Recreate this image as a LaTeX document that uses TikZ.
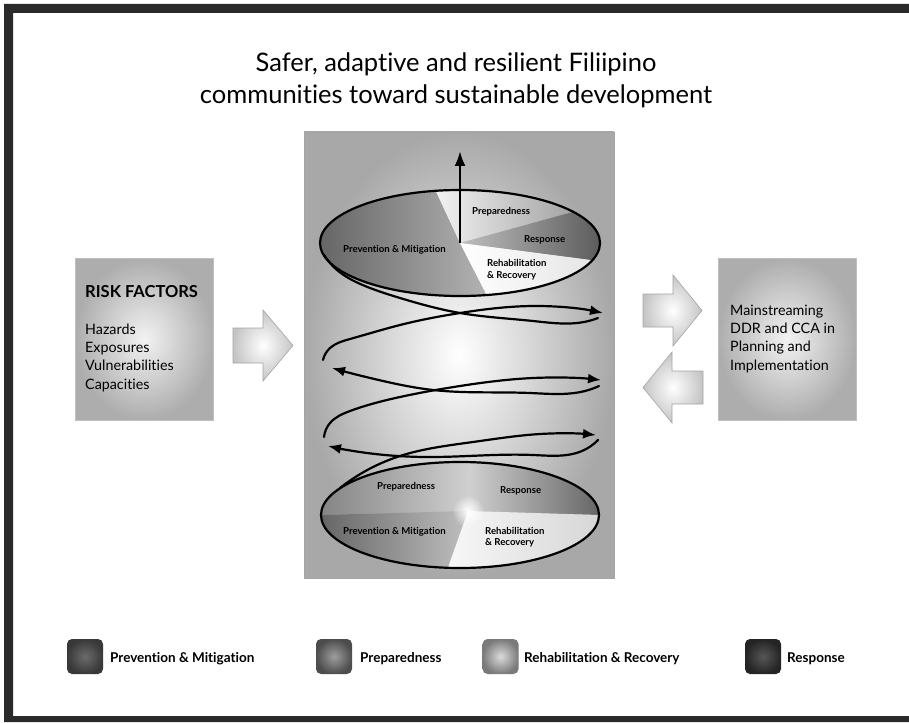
\documentclass[tikz,border=0pt]{standalone}
\usepackage{fontspec}
\setmainfont{Lato}[Ligatures=NoCommon]
\usetikzlibrary{hobby, calc, arrows.meta, fadings}

\definecolor{framegray}{HTML}{2A2A2A}
\definecolor{edgegray}{HTML}{A4A4A4}
\definecolor{panelgray}{HTML}{A8A8A8}
\definecolor{boxgray}{HTML}{ADADAD}
\definecolor{arrowgray}{HTML}{C4C4C4}

\tikzfading[name=glow, inner color=transparent!0, outer color=transparent!100]

\tikzset{
  titletext/.style={anchor=base, font=\fontsize{25.5}{30}\selectfont},
  boxhead/.style={anchor=base west, inner sep=0pt, font=\bfseries\fontsize{16.5}{19}\selectfont},
  boxtext/.style={anchor=base west, inner sep=0pt, font=\fontsize{14.3}{17}\selectfont},
  pielabel/.style={anchor=base west, inner sep=0pt, font=\bfseries\fontsize{9.6}{11}\selectfont},
  legendtext/.style={anchor=base west, inner sep=0pt, font=\bfseries\fontsize{13.5}{16}\selectfont},
  factorbox/.style={draw=edgegray!70, line width=0.5pt, shading=radial, inner color=white!95!black,
    outer color=boxgray, minimum width=138pt, minimum height=162pt, inner sep=0pt},
  panel/.style={draw=edgegray, line width=0.6pt, shading=radial, inner color=white,
    outer color=panelgray, minimum width=310pt, minimum height=446pt, inner sep=0pt},
  blockarrow/.style={draw=edgegray, line width=0.6pt, shading=radial, inner color=white, outer color=arrowgray},
  legendkey/.style={rounded corners=5pt, minimum width=36pt, minimum height=35pt, inner sep=0pt, shading=radial},
  helix/.style={line width=2.2pt, line cap=round},
  helixtip/.style={helix, -{Latex[length=13pt,width=10pt]}}
}

\begin{document}
\begin{tikzpicture}[x=1pt, y=-1pt, use Hobby shortcut]
  \useasboundingbox (0,0) rectangle (909,722);
  \fill[framegray] (4,4) rectangle (909,13) (4,4) rectangle (13,722) (4,716) rectangle (909,722);

  \node[titletext] (title1) at (456,72) {Safer, adaptive and resilient Filiipino};
  \node[titletext] (title2) at (456,104) {communities toward sustainable development};

  \node[factorbox] (risk) at (144.5,339) {};
  \node[boxhead] (riskhead) at (85,297) {RISK FACTORS};
  \foreach \f [count=\i from 0] in {Hazards, Exposures, Vulnerabilities, Capacities}
    \node[boxtext] (factor\i) at (85,{334+18.4*\i}) {\f};

  \node[factorbox] (mainstream) at (787,339) {};
  \foreach \l [count=\i from 0] in {Mainstreaming, DDR and CCA in, Planning and, Implementation}
    \node[boxtext] (plan\i) at (730,{315+18.4*\i}) {\l};

  \path[blockarrow] (233,328) -- (263,328) -- (263,310) -- (293,345.5) -- (263,381) -- (263,363) -- (233,363) -- cycle;
  \path[blockarrow] (643,294) -- (673,294) -- (673,275) -- (702,310.5) -- (673,346) -- (673,327) -- (643,327) -- cycle;
  \path[blockarrow] (703,371) -- (672,371) -- (672,352) -- (643,387.5) -- (672,423) -- (672,404) -- (703,404) -- cycle;

  \node[panel] (cycle) at (459,355) {};

  \coordinate (top) at (460,243);
  \coordinate (toptip) at (460,151);
  \path[shading=axis, left color=black!62, right color=black!30] (top) -- ++(100:140pt and 53pt)
    arc[start angle=100, end angle=281, x radius=140pt, y radius=53pt] -- cycle;
  \path[shading=axis, left color=black!5, right color=black!36] (top) -- ++(36:140pt and 53pt)
    arc[start angle=36, end angle=100, x radius=140pt, y radius=53pt] -- cycle;
  \path[shading=axis, left color=black!25, right color=black!66] (top) -- ++(-19:140pt and 53pt)
    arc[start angle=-19, end angle=36, x radius=140pt, y radius=53pt] -- cycle;
  \path[shading=axis, left color=white, right color=black!10] (top) -- ++(-79:140pt and 53pt)
    arc[start angle=-79, end angle=-19, x radius=140pt, y radius=53pt] -- cycle;
  \draw[helix] (top) ellipse [x radius=140pt, y radius=53pt];

  \coordinate (low) at (460,515);
  \coordinate (lowhub) at (468,511);
  \path[shading=axis, left color=black!48, right color=black!18] (lowhub) -- ($(low)+(85:139pt and 53pt)$)
    arc[start angle=85, end angle=180, x radius=139pt, y radius=53pt] -- cycle;
  \path[shading=axis, left color=black!18, right color=black!60] (lowhub) -- ($(low)+(0:139pt and 53pt)$)
    arc[start angle=0, end angle=85, x radius=139pt, y radius=53pt] -- cycle;
  \path[shading=axis, left color=black!60, right color=black!25] (lowhub) -- ($(low)+(180:139pt and 53pt)$)
    arc[start angle=180, end angle=265, x radius=139pt, y radius=53pt] -- cycle;
  \path[shading=axis, left color=black!3, right color=black!16] (lowhub) -- ($(low)+(265:139pt and 53pt)$)
    arc[start angle=265, end angle=360, x radius=139pt, y radius=53pt] -- cycle;
  \fill[white, path fading=glow] (lowhub) circle (16pt);
  \draw[helix] (low) ellipse [x radius=139pt, y radius=53pt];

  \draw[helixtip] (340,488) .. (400,456) .. (473,442) .. (540,434) .. (596,435);
  \draw[helixtip] (598,440) .. (582,451) .. (533,455) .. (433,457) .. (367,453) .. (328,446);
  \draw[helixtip] (324,437) .. (330,423) .. (350,411) .. (400,397) .. (460,386) .. (533,378) .. (601,380);
  \draw[helixtip] (599,386) .. (585,391) .. (530,393) .. (433,390) .. (383,381) .. (332,368);
  \draw[helixtip] (323,360) .. (330,348) .. (350,339) .. (400,325) .. (460,313) .. (533,306) .. (603,313);
  \draw[helix] (598,318) .. (584,322) .. (533,321) .. (460,313) .. (400,298) .. (365,286) .. (337,270) .. (324,255);

  \draw[line width=2.5pt, -{Latex[length=15pt,width=11pt]}] (top) -- (toptip);

  \node[pielabel] (topprep) at (472,214) {Preparedness};
  \node[pielabel] (topresp) at (524,242) {Response};
  \node[pielabel] (topprev) at (343,252) {Prevention \& Mitigation};
  \node[pielabel] (toprehab) at (487,266.7) {Rehabilitation};
  \node[pielabel] (toprehab2) at (487,278.3) {\& Recovery};

  \node[pielabel] (lowprep) at (377,489) {Preparedness};
  \node[pielabel] (lowresp) at (500,493) {Response};
  \node[pielabel] (lowprev) at (343,534) {Prevention \& Mitigation};
  \node[pielabel] (lowrehab) at (485,534) {Rehabilitation};
  \node[pielabel] (lowrehab2) at (485,545) {\& Recovery};

  \node[legendkey, inner color=black!58, outer color=black!78] (keyprev) at (85,656.5) {};
  \node[legendtext] (txtprev) at (110,662) {Prevention \& Mitigation};
  \node[legendkey, inner color=black!38, outer color=black!70] (keyprep) at (334,656.5) {};
  \node[legendtext] (txtprep) at (360,662) {Preparedness};
  \node[legendkey, inner color=black!14, outer color=black!52] (keyrehab) at (500.5,656.5) {};
  \node[legendtext] (txtrehab) at (524,662) {Rehabilitation \& Recovery};
  \node[legendkey, inner color=black!66, outer color=black!86] (keyresp) at (763,656.5) {};
  \node[legendtext] (txtresp) at (787,662) {Response};
\end{tikzpicture}
\end{document}
